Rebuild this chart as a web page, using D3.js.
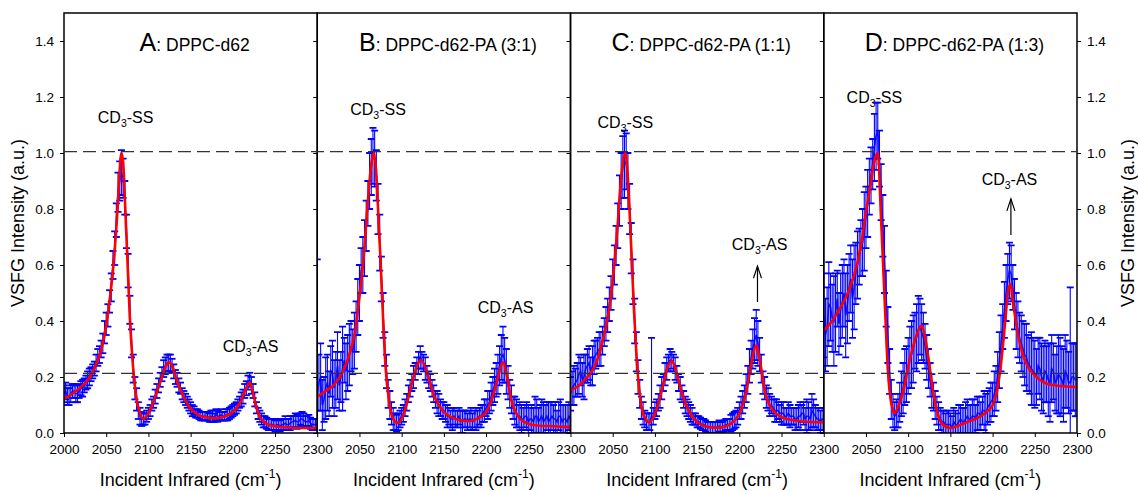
<!DOCTYPE html>
<html>
<head>
<meta charset="utf-8">
<script src="https://cdn.jsdelivr.net/npm/d3@7"></script>
<style>
  body { margin: 0; background: #fff; }
  svg text { font-family: Arial, "Liberation Sans", sans-serif; fill: #000; }
</style>
</head>
<body>
<div id="chart"></div>
<script>
// tick values
const xTicks = [2000, 2050, 2100, 2150, 2200, 2250, 2300];
const yTicks = [0, 0.2, 0.4, 0.6, 0.8, 1.0, 1.2, 1.4];
const refLines = [1.005, 0.213];

const panelLetters = ["A", "B", "C", "D"];
const panelNames = [": DPPC-d62", ": DPPC-d62-PA (3:1)", ": DPPC-d62-PA (1:1)", ": DPPC-d62-PA (1:3)"];

// measured wavenumbers (cm-1), first scan
const wavenumbers = [2000,2004,2008,2012,2016,2020,2024,2028,2032,2036,2040,2044,2048,2052,2056,2060,2064,2068,2072,2076,
  2080,2084,2088,2092,2096,2100,2104,2108,2112,2116,2120,2124,2128,2132,2136,2140,2144,2148,2152,2156,
  2160,2164,2168,2172,2176,2180,2184,2188,2192,2196,2200,2204,2208,2212,2216,2220,2224,2228,2232,2236,
  2240,2244,2248,2252,2256,2260,2264,2268,2272,2276,2280,2284,2288,2292,2296,2300];
// measured wavenumbers, in-between points
const wavenumbersMid = [2002,2006,2010,2014,2018,2022,2026,2030,2034,2038,2042,2046,2050,2054,2058,2062,2066,2070,2074,2078,
  2082,2086,2090,2094,2098,2102,2106,2110,2114,2118,2122,2126,2130,2134,2138,2142,2146,2150,2154,2158,
  2162,2166,2170,2174,2178,2182,2186,2190,2194,2198,2202,2206,2210,2214,2218,2222,2226,2230,2234,2238,
  2242,2246,2250,2254,2258,2262,2266,2270,2274,2278,2282,2286,2290,2294,2298];

// measured intensity per panel
const dataA = [.14,.13,.14,.15,.14,.16,.17,.19,.21,.23,.27,.30,.36,.42,.52,.66,.86,.93,.84,.58,
  .32,.16,.08,.05,.05,.07,.10,.13,.17,.21,.24,.25,.24,.20,.17,.14,.12,.10,.08,.07,
  .065,.06,.06,.055,.06,.065,.06,.06,.065,.07,.08,.09,.11,.13,.16,.19,.15,.09,.06,.04,
  .035,.03,.03,.03,.025,.03,.03,.035,.04,.04,.05,.045,.04,.035,.03,.03];
const dataAMid = [.15,.13,.15,.14,.15,.16,.18,.20,.22,.25,.28,.32,.39,.47,.60,.76,.90,.91,.72,.44,
  .23,.12,.06,.05,.06,.08,.11,.15,.19,.23,.25,.25,.22,.19,.16,.13,.11,.09,.08,.07,
  .06,.06,.06,.06,.055,.06,.065,.06,.065,.075,.085,.10,.12,.15,.18,.17,.12,.07,.05,.04,
  .03,.03,.025,.03,.03,.035,.03,.04,.045,.04,.05,.04,.045,.03,.03];
const dataB = [.14,.20,.12,.18,.22,.16,.24,.20,.26,.25,.31,.33,.45,.58,.66,.82,.95,.98,.80,.55,
  .30,.14,.07,.04,.04,.06,.09,.14,.18,.22,.25,.26,.23,.19,.16,.12,.10,.08,.07,.06,
  .05,.05,.06,.04,.05,.05,.04,.05,.06,.07,.09,.11,.15,.19,.24,.28,.22,.14,.09,.07,
  .06,.05,.06,.05,.04,.06,.05,.04,.06,.05,.05,.04,.06,.05,.04,.05];
const dataBMid = [.18,.10,.16,.14,.21,.19,.17,.23,.22,.28,.29,.38,.50,.60,.74,.90,.99,.92,.68,.42,
  .22,.10,.05,.035,.05,.07,.11,.16,.20,.24,.27,.25,.21,.18,.14,.11,.09,.08,.06,.05,
  .06,.05,.04,.05,.04,.05,.05,.05,.06,.08,.10,.13,.17,.21,.27,.26,.18,.12,.08,.06,
  .05,.06,.04,.05,.06,.04,.06,.05,.04,.06,.05,.06,.04,.05,.06];
const dataC = [.14,.17,.19,.22,.20,.24,.22,.27,.29,.30,.36,.42,.50,.60,.74,.90,.96,.90,.66,.40,
  .20,.09,.05,.04,.06,.08,.11,.16,.21,.25,.26,.23,.18,.14,.10,.08,.06,.05,.04,.03,
  .025,.02,.02,.02,.025,.02,.03,.03,.04,.05,.08,.11,.16,.24,.30,.35,.28,.18,.13,.10,
  .09,.08,.07,.07,.06,.06,.06,.05,.06,.07,.06,.05,.07,.05,.04,.05];
const dataCMid = [.16,.18,.21,.19,.23,.25,.24,.28,.30,.33,.39,.46,.55,.67,.83,.95,.97,.80,.54,.29,
  .14,.07,.04,.04,.06,.09,.13,.18,.23,.26,.25,.21,.16,.12,.09,.07,.05,.04,.035,.03,
  .02,.02,.02,.02,.02,.025,.03,.035,.045,.06,.09,.13,.19,.27,.33,.32,.23,.16,.12,.10,
  .08,.08,.07,.06,.07,.06,.05,.06,.07,.05,.06,.08,.06,.05,.05];
const dataD = [.42,.38,.45,.40,.48,.44,.50,.46,.55,.52,.60,.66,.72,.82,.92,1.02,1.08,.86,.62,.35,
  .12,.06,.08,.14,.20,.24,.28,.33,.37,.36,.31,.23,.15,.10,.06,.04,.03,.03,.02,.03,
  .04,.04,.05,.05,.06,.05,.07,.08,.07,.10,.12,.16,.26,.38,.50,.58,.52,.40,.34,.30,
  .27,.24,.22,.20,.23,.19,.21,.18,.22,.19,.20,.17,.21,.18,.20,.19];
const dataDMid = [.35,.46,.41,.43,.39,.47,.42,.52,.48,.57,.63,.68,.77,.88,.96,1.06,.98,.74,.48,.22,
  .08,.07,.11,.16,.21,.27,.30,.34,.38,.34,.27,.19,.13,.08,.05,.04,.03,.03,.04,.03,
  .05,.04,.06,.05,.06,.07,.06,.08,.09,.11,.14,.20,.32,.44,.55,.57,.46,.37,.32,.28,
  .25,.23,.21,.24,.20,.22,.19,.23,.18,.21,.19,.22,.18,.20,.19];

// error bar half widths per panel
const errA = [.03,.03,.03,.025,.03,.025,.025,.03,.025,.025,.03,.03,.04,.04,.05,.06,.07,.08,.06,.06,
  .05,.04,.03,.025,.02,.02,.02,.025,.025,.025,.03,.03,.025,.025,.025,.02,.02,.02,.02,.015,
  .015,.015,.015,.015,.02,.02,.015,.015,.02,.02,.02,.02,.02,.025,.025,.025,.025,.02,.02,.02,
  .02,.02,.02,.02,.02,.02,.02,.025,.02,.025,.02,.025,.02,.02,.02,.02];
const errAMid = [.03,.03,.025,.03,.025,.03,.025,.03,.025,.03,.03,.035,.04,.04,.05,.06,.07,.07,.06,.05,
  .05,.04,.03,.02,.02,.02,.02,.025,.025,.03,.03,.03,.025,.025,.02,.02,.02,.02,.015,.015,
  .015,.015,.015,.02,.015,.02,.02,.015,.02,.02,.02,.02,.025,.025,.025,.03,.025,.02,.02,.02,
  .02,.02,.02,.02,.02,.025,.02,.02,.025,.02,.025,.02,.02,.02,.02];
const errB = [.48,.12,.08,.10,.09,.10,.12,.09,.08,.10,.09,.10,.10,.08,.10,.08,.10,.10,.09,.08,
  .06,.05,.04,.03,.03,.03,.03,.03,.03,.03,.04,.03,.04,.03,.03,.03,.04,.03,.03,.03,
  .04,.03,.03,.04,.03,.03,.03,.04,.03,.03,.03,.04,.05,.06,.07,.10,.08,.05,.04,.05,
  .05,.04,.05,.04,.05,.06,.05,.07,.05,.06,.05,.04,.06,.05,.06,.05];
const errBMid = [.10,.09,.11,.08,.12,.10,.09,.15,.10,.11,.08,.09,.10,.10,.09,.10,.10,.09,.10,.08,
  .06,.05,.04,.03,.03,.03,.03,.03,.04,.03,.04,.03,.03,.03,.03,.04,.03,.03,.04,.03,
  .03,.03,.04,.03,.03,.04,.03,.03,.04,.04,.05,.05,.06,.07,.08,.08,.06,.05,.05,.04,
  .05,.04,.06,.05,.07,.05,.06,.05,.07,.05,.06,.05,.06,.05,.05];
const errC = [.06,.07,.06,.05,.08,.06,.05,.06,.05,.06,.05,.06,.06,.07,.08,.10,.12,.10,.09,.08,
  .06,.04,.03,.03,.28,.03,.03,.04,.04,.03,.03,.04,.03,.03,.03,.03,.03,.02,.02,.02,
  .02,.02,.02,.02,.02,.02,.02,.02,.03,.03,.03,.04,.05,.06,.07,.09,.06,.04,.04,.04,
  .03,.04,.03,.04,.03,.04,.03,.04,.05,.04,.06,.04,.05,.04,.04,.04];
const errCMid = [.06,.05,.07,.06,.05,.06,.07,.05,.06,.05,.06,.06,.07,.07,.09,.11,.10,.09,.08,.07,
  .05,.04,.03,.03,.03,.03,.04,.03,.04,.04,.03,.03,.04,.03,.03,.03,.02,.02,.02,.02,
  .02,.02,.02,.02,.02,.02,.02,.03,.03,.03,.04,.04,.05,.06,.08,.08,.05,.04,.04,.03,
  .04,.03,.04,.03,.04,.03,.04,.04,.03,.04,.05,.06,.04,.04,.04];
const errD = [.15,.14,.12,.16,.10,.13,.12,.14,.12,.15,.12,.10,.14,.12,.10,.12,.10,.10,.12,.10,
  .07,.05,.06,.08,.10,.10,.12,.10,.12,.10,.08,.07,.06,.05,.05,.04,.04,.05,.04,.05,
  .06,.05,.06,.05,.06,.05,.06,.05,.07,.06,.06,.08,.10,.08,.10,.10,.08,.10,.09,.10,
  .12,.10,.12,.10,.11,.12,.10,.14,.10,.12,.14,.13,.12,.34,.12,.13];
const errDMid = [.13,.15,.12,.14,.11,.13,.15,.12,.14,.11,.10,.12,.11,.10,.09,.12,.10,.11,.10,.08,
  .06,.05,.07,.09,.10,.11,.12,.12,.10,.09,.08,.06,.05,.05,.04,.04,.05,.04,.05,.04,
  .05,.05,.06,.05,.06,.06,.05,.07,.06,.07,.08,.09,.10,.10,.09,.10,.09,.10,.10,.11,
  .10,.13,.12,.10,.12,.11,.13,.12,.10,.14,.12,.13,.11,.12,.13];

// fitted curves [wavenumber, intensity]
const fitA = [[2000,.122],[2010,.14],[2020,.164],[2030,.197],[2040,.26],[2045,.307],[2050,.384],[2055,.497],[2060,.65],[2063,.78],
  [2065,.89],[2068,1.0],[2070,.97],[2073,.77],[2075,.63],[2078,.41],[2080,.31],[2085,.14],[2090,.07],[2094,.05],
  [2100,.07],[2105,.105],[2110,.146],[2115,.19],[2120,.235],[2125,.253],[2130,.223],[2135,.176],[2140,.14],[2145,.11],
  [2150,.087],[2160,.063],[2170,.055],[2180,.053],[2190,.059],[2200,.075],[2205,.093],[2210,.116],[2215,.155],[2220,.18],
  [2225,.128],[2230,.07],[2235,.045],[2240,.033],[2250,.024],[2260,.021],[2270,.019],[2280,.018],[2300,.018]];
const fitB = [[2000,.13],[2010,.15],[2020,.173],[2030,.217],[2040,.30],[2045,.366],[2050,.485],[2055,.627],[2060,.83],[2064,.96],
  [2067,1.0],[2070,.925],[2073,.735],[2075,.615],[2078,.41],[2080,.28],[2085,.116],[2090,.05],[2095,.036],[2100,.05],
  [2105,.093],[2110,.152],[2115,.21],[2120,.253],[2123,.26],[2130,.217],[2135,.164],[2140,.122],[2145,.095],[2150,.075],
  [2160,.055],[2170,.045],[2180,.043],[2190,.051],[2200,.075],[2205,.105],[2210,.152],[2215,.21],[2220,.253],[2225,.2],
  [2230,.116],[2235,.075],[2240,.051],[2250,.033],[2260,.027],[2280,.024],[2300,.021]];
const fitC = [[2000,.152],[2010,.17],[2020,.2],[2030,.247],[2040,.354],[2045,.425],[2050,.544],[2055,.71],[2060,.91],[2065,1.0],
  [2068,.91],[2070,.79],[2073,.59],[2075,.45],[2078,.283],[2080,.2],[2085,.08],[2090,.045],[2093,.039],[2100,.069],
  [2105,.116],[2110,.176],[2115,.235],[2120,.257],[2125,.223],[2130,.164],[2135,.116],[2140,.08],[2150,.039],[2160,.024],
  [2170,.019],[2180,.021],[2190,.033],[2200,.069],[2205,.11],[2210,.176],[2215,.26],[2220,.313],[2225,.247],[2230,.152],
  [2235,.105],[2240,.08],[2250,.057],[2260,.048],[2270,.043],[2280,.04],[2300,.038]];
const fitD = [[2000,.366],[2010,.40],[2020,.45],[2030,.51],[2040,.61],[2045,.687],[2050,.79],[2055,.877],[2060,.972],[2064,1.0],
  [2068,.757],[2072,.485],[2076,.223],[2080,.105],[2084,.071],[2088,.093],[2095,.16],[2100,.235],[2105,.30],[2110,.35],
  [2116,.384],[2120,.342],[2125,.247],[2130,.14],[2135,.069],[2140,.033],[2150,.018],[2160,.027],[2170,.039],[2180,.051],
  [2190,.069],[2200,.099],[2205,.146],[2210,.247],[2215,.40],[2218,.497],[2221,.532],[2225,.45],[2230,.354],[2235,.289],
  [2240,.247],[2250,.206],[2260,.182],[2270,.172],[2280,.168],[2300,.164]];

// peak labels: [panel, mode, wavenumber, intensity]
const peakLabels = [
  [0, "SS", 2073, 1.107], [0, "AS", 2221, 0.288],
  [1, "SS", 2072, 1.135], [1, "AS", 2223, 0.428],
  [2, "SS", 2065, 1.089], [2, "AS", 2224, 0.653],
  [3, "SS", 2060, 1.178], [3, "AS", 2220, 0.885]
];
// arrows: [panel, wavenumber, from, to]
const arrows = [[2, 2221.5, 0.468, 0.596], [3, 2221.7, 0.707, 0.836]];

const panels = [
  { data: dataA, dataMid: dataAMid, err: errA, errMid: errAMid, fit: fitA },
  { data: dataB, dataMid: dataBMid, err: errB, errMid: errBMid, fit: fitB },
  { data: dataC, dataMid: dataCMid, err: errC, errMid: errCMid, fit: fitC },
  { data: dataD, dataMid: dataDMid, err: errD, errMid: errDMid, fit: fitD }
];

const width = 1138, height = 491;
const margin = { top: 13, right: 61, bottom: 58, left: 64 };
const plotBottom = height - margin.bottom;
const panelW = (width - margin.left - margin.right) / 4;

const svg = d3.select("#chart").append("svg")
  .attr("width", width)
  .attr("height", height);

const y = d3.scaleLinear().domain([0, 1.5]).range([plotBottom, margin.top]);

const xs = panels.map((p, i) => {
  const x0 = margin.left + i * panelW;
  return d3.scaleLinear().domain([2000, 2300]).range([x0, x0 + panelW]);
});

panels.forEach((p, i) => {
  const x = xs[i];
  const x0 = x.range()[0];
  const g = svg.append("g");

  g.append("clipPath").attr("id", "clip" + i)
    .append("rect")
    .attr("x", x0).attr("y", margin.top)
    .attr("width", panelW).attr("height", plotBottom - margin.top);

  const plot = g.append("g").attr("clip-path", `url(#clip${i})`);

  const pts = wavenumbers.map((w, k) => ({ w: w, v: p.data[k], e: p.err[k] }))
    .concat(wavenumbersMid.map((w, k) => ({ w: w, v: p.dataMid[k], e: p.errMid[k] })))
    .sort((a, b) => a.w - b.w);

  plot.append("path")
    .datum(pts)
    .attr("fill", "none")
    .attr("stroke", "#2020ff")
    .attr("stroke-width", 1.6)
    .attr("d", d3.line().x(d => x(d.w)).y(d => y(d.v)));

  // error bars
  const bars = plot.append("g")
    .attr("stroke", "#0000ff")
    .attr("stroke-width", 1.1);
  pts.forEach(d => {
    const xp = x(d.w);
    const lo = y(d.v - d.e), hi = y(d.v + d.e);
    bars.append("line").attr("x1", xp).attr("x2", xp).attr("y1", lo).attr("y2", hi);
    bars.append("line").attr("x1", xp - 3.5).attr("x2", xp + 3.5).attr("y1", lo).attr("y2", lo).attr("stroke-width", 1.8);
    bars.append("line").attr("x1", xp - 3.5).attr("x2", xp + 3.5).attr("y1", hi).attr("y2", hi).attr("stroke-width", 1.8);
  });

  // fitted curve
  plot.append("path")
    .datum(p.fit)
    .attr("fill", "none")
    .attr("stroke", "#ff0000")
    .attr("stroke-width", 2.6)
    .attr("d", d3.line().curve(d3.curveMonotoneX).x(d => x(d[0])).y(d => y(d[1])));

  // bottom axis
  const xAxis = g.append("g")
    .attr("transform", `translate(0,${plotBottom})`)
    .call(d3.axisBottom(x)
      .tickValues(i === 0 ? xTicks : xTicks.slice(1))
      .tickFormat(d3.format("d"))
      .tickSize(4).tickPadding(7));
  xAxis.select(".domain").remove();
  xAxis.selectAll("text").attr("font-size", 13.5);

  // right side ticks
  const rightAxis = g.append("g").attr("transform", `translate(${x0 + panelW},0)`);
  if (i === 3) {
    rightAxis.call(d3.axisRight(y).tickValues(yTicks).tickFormat(d3.format(".1f")).tickSize(4).tickPadding(6));
    rightAxis.selectAll("text").attr("font-size", 13.5);
  } else {
    rightAxis.call(d3.axisLeft(y).tickValues(yTicks).tickFormat("").tickSize(4));
  }
  rightAxis.select(".domain").remove();

  // frame
  g.append("rect")
    .attr("x", x0).attr("y", margin.top)
    .attr("width", panelW).attr("height", plotBottom - margin.top)
    .attr("fill", "none").attr("stroke", "#000").attr("stroke-width", 1.5);

  // title
  const title = g.append("text")
    .attr("x", x0 + panelW / 2 + 4)
    .attr("y", 51)
    .attr("text-anchor", "middle");
  title.append("tspan").attr("font-size", 25).text(panelLetters[i]);
  title.append("tspan").attr("font-size", 17.5).text(panelNames[i]);

  // x label
  const xl = g.append("text")
    .attr("x", x0 + panelW / 2)
    .attr("y", 486)
    .attr("text-anchor", "middle")
    .attr("font-size", 18);
  xl.append("tspan").text("Incident Infrared (cm");
  xl.append("tspan").attr("font-size", 12).attr("dy", -8).text("-1");
  xl.append("tspan").attr("dy", 8).text(")");
});

// left axis
const leftAxis = svg.append("g")
  .attr("transform", `translate(${margin.left},0)`)
  .call(d3.axisLeft(y).tickValues(yTicks).tickFormat(d3.format(".1f")).tickSize(4).tickPadding(6));
leftAxis.select(".domain").remove();
leftAxis.selectAll("text").attr("font-size", 13.5);

// reference dashed lines
svg.selectAll(".ref")
  .data(refLines)
  .enter().append("line")
  .attr("x1", margin.left)
  .attr("x2", width - margin.right)
  .attr("y1", d => y(d))
  .attr("y2", d => y(d))
  .attr("stroke", "#333")
  .attr("stroke-width", 1.2)
  .attr("stroke-dasharray", "13,6");

// peak labels
peakLabels.forEach(([pi, mode, w, v]) => {
  const t = svg.append("text")
    .attr("x", xs[pi](w))
    .attr("y", y(v))
    .attr("text-anchor", "middle")
    .attr("font-size", 16);
  t.append("tspan").text("CD");
  t.append("tspan").attr("font-size", 10.5).attr("dy", 4).text("3");
  t.append("tspan").attr("dy", -4).text("-" + mode);
});

// arrows
arrows.forEach(([pi, w, from, to]) => {
  const xp = xs[pi](w);
  const a = svg.append("g").attr("stroke", "#000").attr("stroke-width", 1.2).attr("fill", "none");
  a.append("line").attr("x1", xp).attr("x2", xp).attr("y1", y(from)).attr("y2", y(to));
  a.append("path").attr("d", `M${xp - 4},${y(to) + 12} L${xp},${y(to)} L${xp + 4},${y(to) + 12}`);
});

// y axis titles
svg.append("text")
  .attr("transform", `translate(24,${(margin.top + plotBottom) / 2}) rotate(-90)`)
  .attr("text-anchor", "middle")
  .attr("font-size", 18)
  .text("VSFG Intensity (a.u.)");
svg.append("text")
  .attr("transform", `translate(1134,${(margin.top + plotBottom) / 2}) rotate(-90)`)
  .attr("text-anchor", "middle")
  .attr("font-size", 18)
  .text("VSFG Intensity (a.u.)");
</script>
</body>
</html>
